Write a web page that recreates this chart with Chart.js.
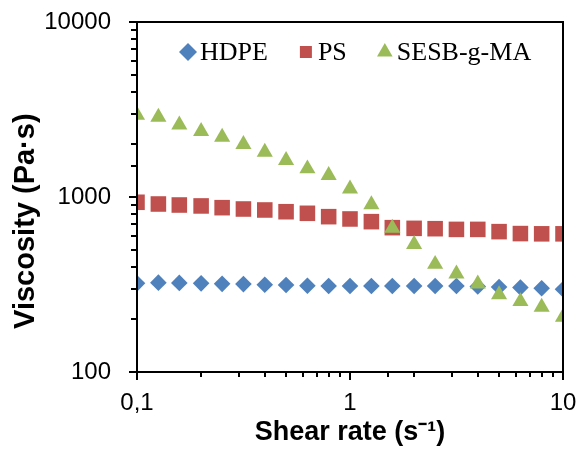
<!DOCTYPE html>
<html>
<head>
<meta charset="utf-8">
<title>Viscosity vs shear rate</title>
<script src="https://cdn.jsdelivr.net/npm/chart.js@4.4.1/dist/chart.umd.min.js"></script>
<style>
  html, body { margin: 0; padding: 0; background: #fff; }
</style>
</head>
<body>
<canvas id="viscChart" width="582" height="455"></canvas>
<script>
// shear rate (1/s), 10 points per decade
const shearRate = [0.1, 0.126, 0.158, 0.2, 0.251, 0.316, 0.398, 0.501, 0.631, 0.794,
                   1, 1.26, 1.58, 2, 2.51, 3.16, 3.98, 5.01, 6.31, 7.94, 10];

// viscosity (Pa·s)
const hdpe = [321, 324, 323, 321, 319, 318, 315, 314, 311, 310,
              310, 310, 310, 310, 310, 310, 308, 306, 304, 301, 297];
const ps   = [933, 912, 900, 889, 869, 854, 843, 824, 807, 772,
              749, 723, 668, 662, 659, 653, 653, 634, 618, 616, 616];
const sesb = [2940, 2865, 2588, 2373, 2202, 2000, 1807, 1620, 1451, 1330,
              1115, 904, 665, 536, 413, 364, 319, 277, 253, 235, 206];

const xTickValues = [0.1, 1, 10];
const xTickLabels = ['0,1', '1', '10'];
const yTickValues = [100, 1000, 10000];
const yTickLabels = ['100', '1000', '10000'];

const toPoints = arr => arr.map((v, i) => ({ x: shearRate[i], y: v }));
const isDecade = v => Math.abs(Math.log10(v) - Math.round(Math.log10(v))) < 1e-6;
const labelFor = (values, labels) => v => {
    const i = values.findIndex(t => Math.abs(t - v) / t < 1e-6);
    return i >= 0 ? labels[i] : '';
};

// frame round the plot area + outside tick marks (long at decades)
const frameAndTicks = {
    id: 'frameAndTicks',
    afterDraw(chart) {
        const { ctx, chartArea: a, scales: { x, y } } = chart;
        ctx.save();
        ctx.strokeStyle = '#000';
        ctx.lineWidth = 2;
        ctx.strokeRect(a.left, a.top, a.right - a.left, a.bottom - a.top);
        ctx.beginPath();
        x.ticks.forEach(t => {
            const px = Math.round(x.getPixelForValue(t.value));
            ctx.moveTo(px, a.bottom);
            ctx.lineTo(px, a.bottom + (isDecade(t.value) ? 8 : 5));
        });
        y.ticks.forEach(t => {
            const py = Math.round(y.getPixelForValue(t.value));
            ctx.moveTo(a.left, py);
            ctx.lineTo(a.left - (isDecade(t.value) ? 8 : 6), py);
        });
        ctx.stroke();
        ctx.restore();
    }
};

// legend drawn inside the plot, marker right before its label
const insideLegend = {
    id: 'insideLegend',
    afterDraw(chart) {
        const { ctx, chartArea: a } = chart;
        const radius = { rectRot: 9, rect: 8.5, triangle: 9 };
        ctx.save();
        ctx.font = '26px "Liberation Serif", "Times New Roman", serif';
        ctx.textBaseline = 'middle';
        let cx = a.left + 51;
        const cy = a.top + 30;
        chart.data.datasets.forEach(ds => {
            ctx.fillStyle = ds.backgroundColor;
            Chart.helpers.drawPoint(ctx, { pointStyle: ds.pointStyle, radius: radius[ds.pointStyle], rotation: 0, borderWidth: 0 }, cx, cy);
            const tx = cx + 12;
            ctx.fillStyle = '#000';
            ctx.fillText(ds.label, tx, cy + 1);
            cx = tx + ctx.measureText(ds.label).width + 38;
        });
        ctx.restore();
    }
};

const ctx = document.getElementById('viscChart').getContext('2d');

new Chart(ctx, {
    type: 'scatter',
    data: {
        datasets: [
            {
                label: 'HDPE',
                data: toPoints(hdpe),
                pointStyle: 'rectRot',
                pointRadius: 8.3,
                backgroundColor: '#4F81BD',
                borderWidth: 0,
                order: 3
            },
            {
                label: 'PS',
                data: toPoints(ps),
                pointStyle: 'rect',
                pointRadius: 11,
                backgroundColor: '#C0504D',
                borderWidth: 0,
                order: 2
            },
            {
                label: 'SESB-g-MA',
                data: toPoints(sesb),
                pointStyle: 'triangle',
                pointRadius: 9.3,
                backgroundColor: '#9BBB59',
                borderWidth: 0,
                order: 1
            }
        ]
    },
    options: {
        responsive: false,
        animation: false,
        layout: { padding: { top: 22, right: 19, left: 0, bottom: 0 } },
        plugins: {
            legend: { display: false },
            tooltip: { enabled: false }
        },
        scales: {
            x: {
                type: 'logarithmic',
                min: 0.1,
                max: 10,
                afterFit: s => { s.height = 83; s.paddingLeft = 0; s.paddingRight = 0; },
                grid: { display: false, drawTicks: false },
                border: { display: false },
                ticks: {
                    autoSkip: false,
                    maxRotation: 0,
                    padding: 17,
                    color: '#000',
                    font: { family: '"Liberation Sans", Arial, sans-serif', size: 24 },
                    callback: labelFor(xTickValues, xTickLabels)
                },
                title: {
                    display: true,
                    text: 'Shear rate (s\u207B\u00B9)',
                    color: '#000',
                    font: { family: '"Liberation Sans", Arial, sans-serif', size: 27, weight: 'bold' },
                    padding: { top: 0, bottom: 6 }
                }
            },
            y: {
                type: 'logarithmic',
                min: 100,
                max: 10000,
                afterFit: s => { s.width = 137; s.paddingTop = 0; s.paddingBottom = 0; },
                grid: { display: false, drawTicks: false },
                border: { display: false },
                ticks: {
                    autoSkip: false,
                    padding: 26,
                    color: '#000',
                    font: { family: '"Liberation Sans", Arial, sans-serif', size: 24 },
                    callback: labelFor(yTickValues, yTickLabels)
                },
                title: {
                    display: true,
                    // trailing spaces push the centred title down like the original
                    text: 'Viscosity (Pa\u00B7s)\u00A0\u00A0\u00A0\u00A0\u00A0\u00A0',
                    color: '#000',
                    font: { family: '"Liberation Sans", Arial, sans-serif', size: 29, weight: 'bold' },
                    padding: { top: 9, bottom: 0 }
                }
            }
        }
    },
    plugins: [frameAndTicks, insideLegend]
});
</script>
</body>
</html>
